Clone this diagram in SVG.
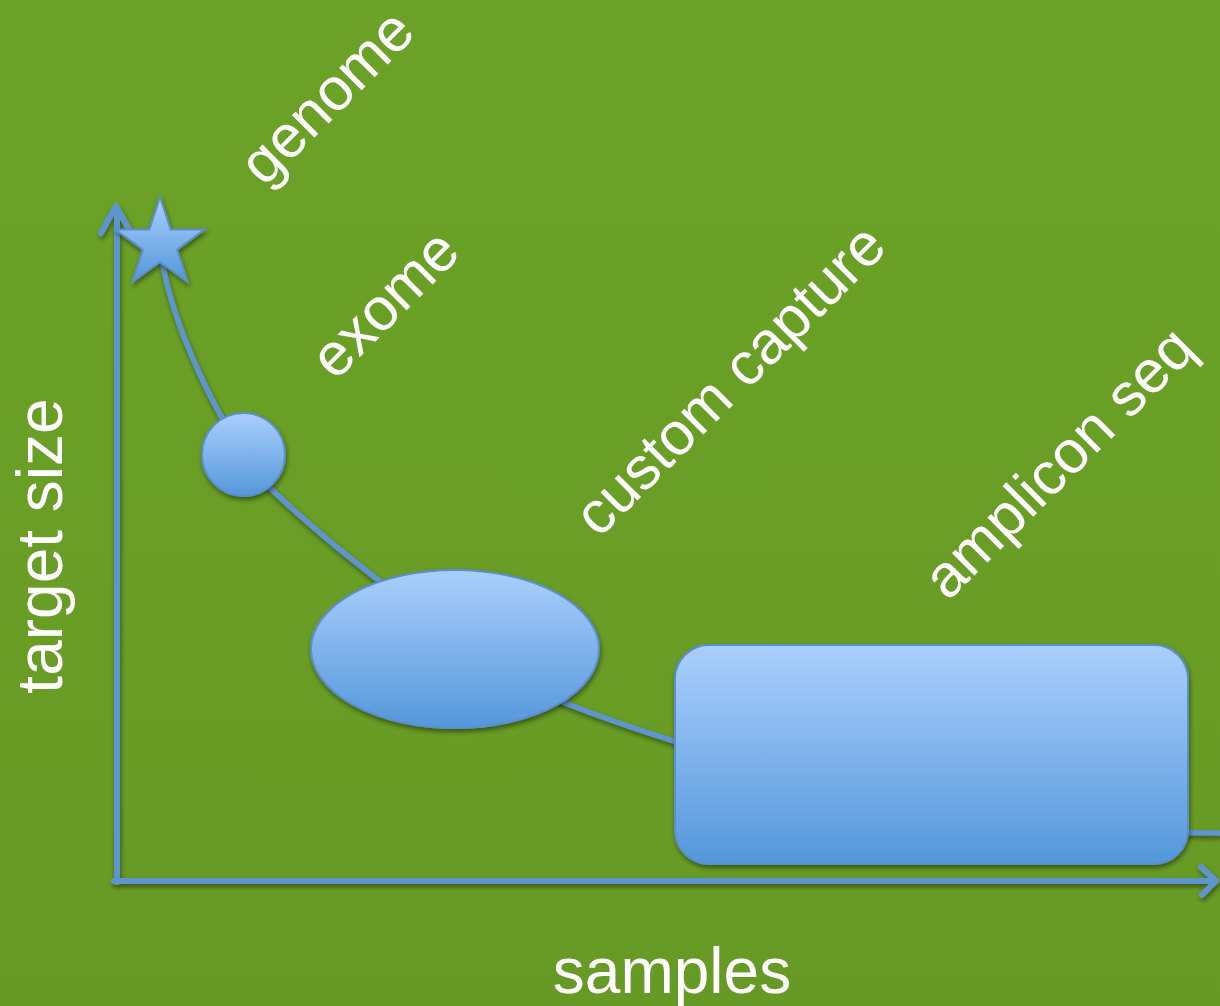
<svg xmlns="http://www.w3.org/2000/svg" width="1220" height="1006" viewBox="0 0 1220 1006">
  <defs>
    <linearGradient id="bg" x1="0" y1="0" x2="0" y2="1">
      <stop offset="0" stop-color="#6ca227"/>
      <stop offset="1" stop-color="#679a25"/>
    </linearGradient>
    <linearGradient id="shapeFill" x1="0" y1="0" x2="0" y2="1">
      <stop offset="0" stop-color="#abcffd"/>
      <stop offset="1" stop-color="#5497db"/>
    </linearGradient>
    <filter id="shadow" x="-10%" y="-10%" width="130%" height="130%">
      <feGaussianBlur in="SourceAlpha" stdDeviation="2.5"/>
      <feOffset dx="1" dy="3" result="off"/>
      <feComponentTransfer><feFuncA type="linear" slope="0.45"/></feComponentTransfer>
      <feMerge><feMergeNode/><feMergeNode in="SourceGraphic"/></feMerge>
    </filter>
    <style>
      .axis { fill: none; stroke: #5e95cf; stroke-width: 6; stroke-linecap: round; stroke-linejoin: round; }
      .curve { fill: none; stroke: #5e95cf; stroke-width: 5.5; }
      .shape { fill: url(#shapeFill); stroke: #5b8fd0; stroke-width: 2; }
      .label { fill: #ffffff; font-family: "Liberation Sans", Arial, Helvetica, sans-serif; font-size: 60px; }
      .axislabel { fill: #ffffff; font-family: "Liberation Sans", Arial, Helvetica, sans-serif; font-size: 64px; }
    </style>
  </defs>

  <!-- background -->
  <rect x="0" y="0" width="1220" height="1006" fill="url(#bg)"/>

  <!-- connectors: axes and trade-off curve -->
  <g id="connectors" filter="url(#shadow)">
    <path class="axis" d="M117,882 V208 M101,233 L116,206 L131,233"/>
    <path class="axis" d="M114,881 H1215 M1201,867 L1216,881 L1202,895"/>
    <path class="curve" d="M160,245 C168,320 220,430 270,488 C340,555 470,655 565,703 C680,748 950,833 1220,833"/>
  </g>

  <!-- nodes -->
  <g id="genome-node" filter="url(#shadow)">
    <polygon class="shape" points="160,197 170.6,229.4 204.7,229.5 177.1,249.6 187.6,282 160,262 132.4,282 142.9,249.6 115.3,229.5 149.4,229.4"/>
  </g>
  <g id="exome-node" filter="url(#shadow)">
    <circle class="shape" cx="243.5" cy="454.5" r="41.5"/>
  </g>
  <g id="custom-capture-node" filter="url(#shadow)">
    <ellipse class="shape" cx="455" cy="649" rx="144" ry="79"/>
  </g>
  <g id="amplicon-seq-node" filter="url(#shadow)">
    <rect class="shape" x="675" y="645" width="513" height="219" rx="34" ry="34"/>
  </g>

  <!-- labels -->
  <g id="labels">
    <text class="label" text-anchor="middle" transform="translate(341,111) rotate(-45)">genome</text>
    <text class="label" text-anchor="middle" transform="translate(399,318) rotate(-45)">exome</text>
    <text class="label" text-anchor="middle" transform="translate(744,394) rotate(-45)">custom capture</text>
    <text class="label" text-anchor="middle" transform="translate(1073,477) rotate(-45)">amplicon seq</text>
    <text class="axislabel" text-anchor="middle" transform="translate(62,546) rotate(-90)">target size</text>
    <text class="axislabel" text-anchor="middle" x="672" y="993">samples</text>
  </g>
</svg>
